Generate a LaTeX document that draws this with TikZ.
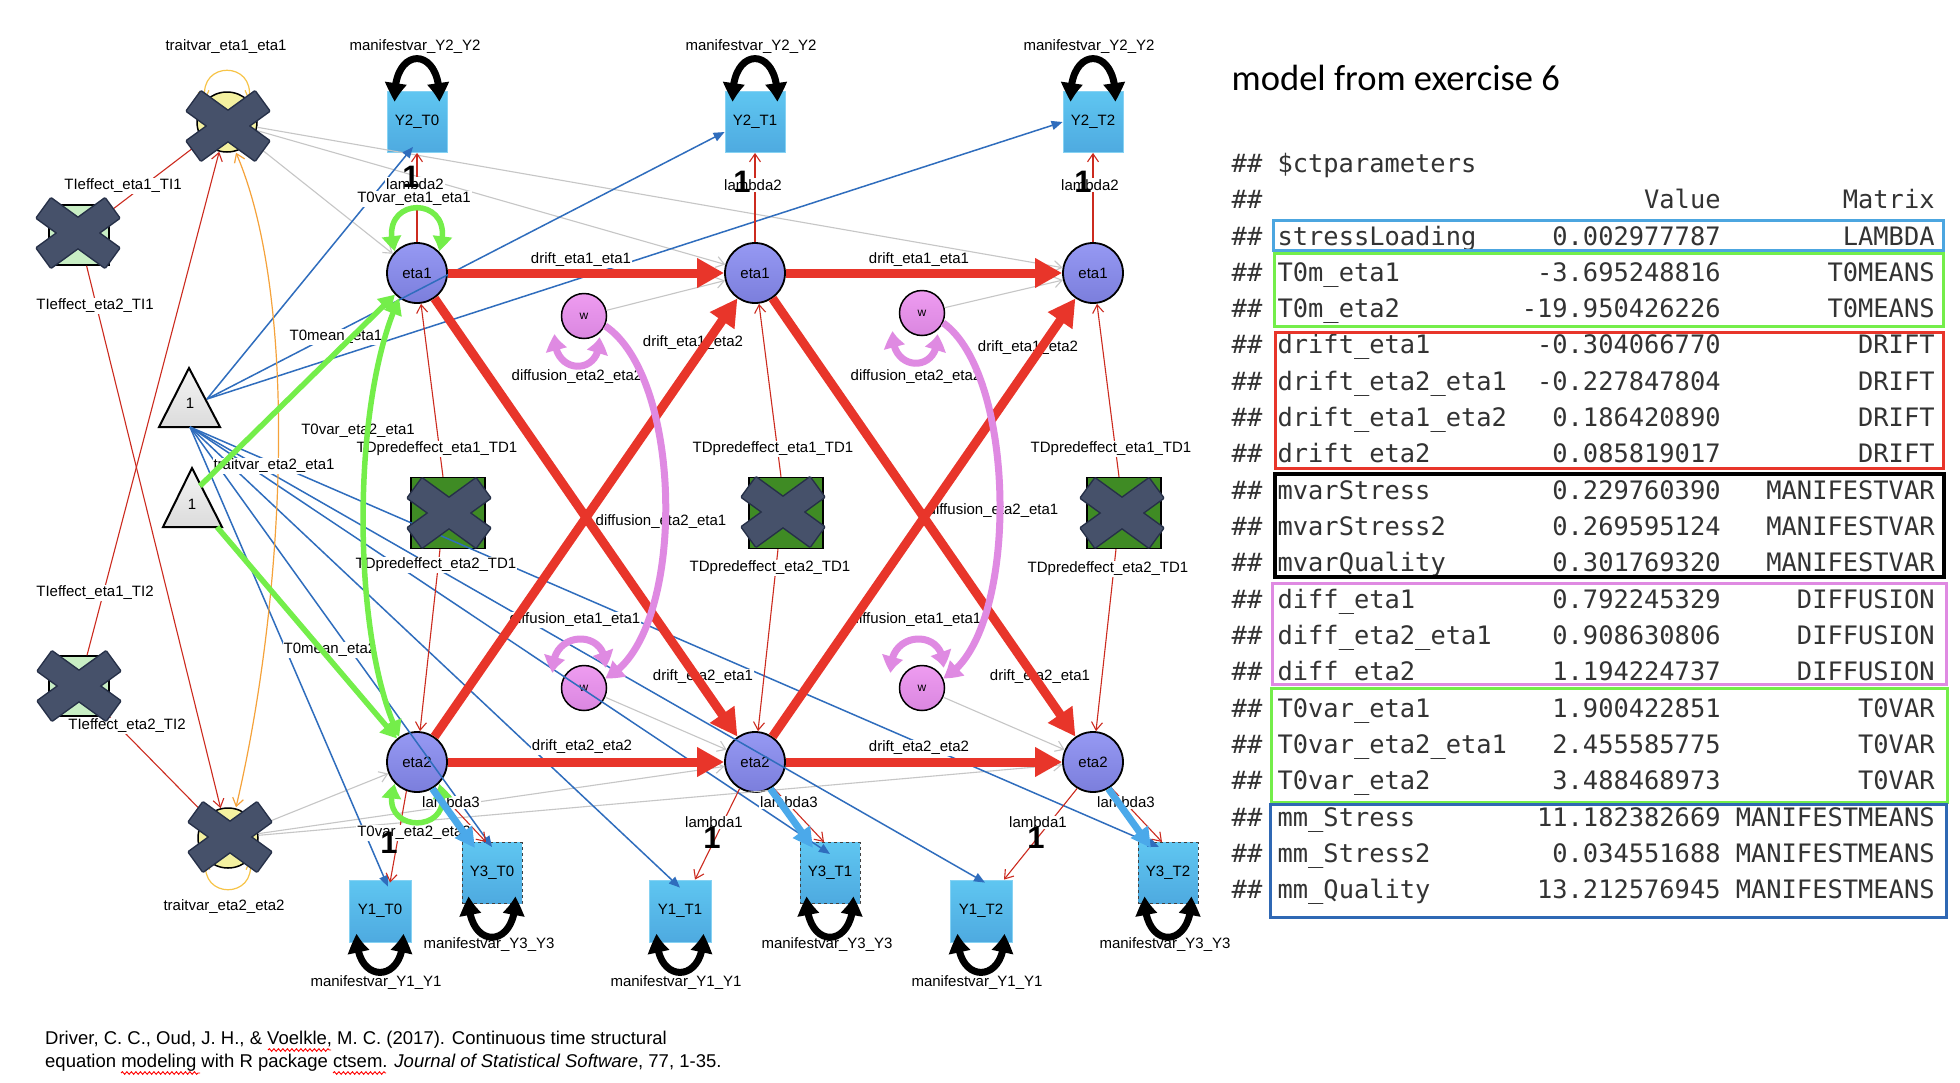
\documentclass[tikz,border=0pt]{standalone}
\usepackage{fontspec}
\setmainfont{Liberation Sans}
\newfontfamily\monof{DejaVu Sans Mono}
\newfontfamily\titlef{Carlito}
\usetikzlibrary{arrows.meta,bending,calc,decorations.pathmorphing}
\newcommand\fs[1]{\fontsize{#1}{#1}\selectfont}
\definecolor{dred}{HTML}{E8352A}
\definecolor{tred}{HTML}{CC2B1F}
\definecolor{tgreen}{HTML}{74EE4A}
\definecolor{tviol}{HTML}{DF8AE2}
\definecolor{tblue}{HTML}{2F6DBD}
\definecolor{dblue}{HTML}{2F68B4}
\definecolor{lblue}{HTML}{4CA6E0}
\definecolor{lbarrow}{HTML}{4BA9EA}
\definecolor{lgray}{HTML}{C6C6C6}
\definecolor{orng}{HTML}{F5A23A}
\definecolor{ylw}{HTML}{F7C448}
\definecolor{ytop}{HTML}{5FC6F1}
\definecolor{ybot}{HTML}{4EAAE0}
\definecolor{ybord}{HTML}{86D2F3}
\definecolor{etop}{HTML}{9699F3}
\definecolor{ebot}{HTML}{7B7EDC}
\definecolor{wtop}{HTML}{EE9CF0}
\definecolor{wbot}{HTML}{DA86E0}
\definecolor{tvfill}{HTML}{F4F1A0}
\definecolor{tifill}{HTML}{C8EEC4}
\definecolor{tdfill}{HTML}{3F8B24}
\definecolor{xfill}{HTML}{46516A}
\definecolor{xline}{HTML}{263048}
\definecolor{tgray}{HTML}{333333}
\newcommand\crossmk[1]{%
\begin{scope}[shift={#1}]
\draw[xline,line width=3pt,line join=round] (26.92,34.41)--(41.04,14.99)--(-26.92,-34.41)--(-41.04,-14.99)--cycle;
\draw[xline,line width=3pt,line join=round] (-26.92,34.41)--(-41.04,14.99)--(26.92,-34.41)--(41.04,-14.99)--cycle;
\fill[xfill] (26.92,34.41)--(41.04,14.99)--(-26.92,-34.41)--(-41.04,-14.99)--cycle;
\fill[xfill] (-26.92,34.41)--(-41.04,14.99)--(26.92,-34.41)--(41.04,-14.99)--cycle;
\end{scope}}
\tikzset{
 lat/.style={circle,draw=black,line width=1.8pt,minimum size=60pt,inner sep=0pt,top color=etop,bottom color=ebot,font=\fs{15}},
 wst/.style={circle,draw=black,line width=1.5pt,minimum size=45pt,inner sep=0pt,top color=wtop,bottom color=wbot,font=\fs{12}},
 tvst/.style={circle,draw=black,line width=1.5pt,minimum size=60pt,inner sep=0pt,fill=tvfill},
 man/.style={rectangle,minimum width=60pt,minimum height=61pt,inner sep=0pt,top color=ytop,bottom color=ybot,draw=ybord,line width=0.8pt,font=\fs{15}},
 manc/.style={man,draw=black!75,dashed,line width=1pt},
 tibox/.style={rectangle,minimum size=60pt,inner sep=0pt,fill=tifill,draw=black,line width=1.5pt},
 tdbox/.style={rectangle,minimum width=74pt,minimum height=71pt,inner sep=0pt,fill=tdfill,draw=black,line width=1.5pt},
 trist/.style={draw=black,line width=2pt,line join=miter,top color=gray!8,bottom color=gray!28},
 lab/.style={font=\fs{15},fill=white,inner sep=1pt},
 one/.style={font=\bfseries\fs{31},inner sep=0pt},
 gline/.style={draw=lgray,line width=1.1pt,-{Straight Barb[length=8pt,width=11pt]}},
 rline/.style={draw=tred,line width=1.1pt,-{Straight Barb[length=8pt,width=11pt]}},
 bline/.style={draw=tblue,line width=1.5pt,-{Triangle[length=11pt,width=9pt]}},
 oline/.style={draw=orng,line width=1.2pt,>={Straight Barb[length=8pt,width=11pt]}},
 yline/.style={draw=ylw,line width=1.2pt,>={Straight Barb[length=8pt,width=11pt]}},
 drift/.style={draw=dred,line width=9pt,-{Triangle[length=27pt,width=28pt]}},
 gthick/.style={draw=tgreen,line width=5.5pt,>={Triangle[length=16pt,width=18pt,bend]}},
 vthick/.style={draw=tviol,line width=7pt,>={Triangle[length=17pt,width=20pt,bend]}},
 lbthick/.style={draw=lbarrow,line width=7pt,-{Triangle[length=20pt,width=20pt]}},
 bkthick/.style={draw=black,line width=7pt,>={Triangle[length=20pt,width=20pt,bend]}},
 tbox/.style={line width=3pt},
 squig/.style={draw=red,line width=0.9pt,decorate,decoration={snake,amplitude=1.3pt,segment length=4.5pt}},
 mono/.style={font=\monof\fs{25.4},text=tgray,inner sep=0pt}
}
\begin{document}
\begin{tikzpicture}[x=1pt,y=-1pt]
\useasboundingbox (0,0) rectangle (1960,1082);
\fill[white] (0,0) rectangle (1960,1082);

% ---------------- nodes ----------------
\node[tvst] (tv1) at (227,122) {};
\node[tvst] (tv2) at (228,838) {};
\node[tibox] (ti1) at (79,235) {};
\node[tibox] (ti2) at (79,686) {};
\draw[trist] (189,368) -- (220,427) -- (159,427) -- cycle;
\node[font=\fs{15}] (tri1t) at (190,403) {1};
\draw[trist] (192,468) -- (222,527) -- (163,527) -- cycle;
\node[font=\fs{15}] (tri2t) at (192,504) {1};
\coordinate (t1u) at (207,399);
\coordinate (t1d) at (190,427);
\coordinate (t2a) at (200,486);
\coordinate (t2b) at (217,527);
\foreach \k/\x in {0/417,1/755,2/1093}{
  \node[lat] (e1\k) at (\x,273) {eta1};
  \node[lat] (e2\k) at (\x,762) {eta2};
  \node[man] (ya\k) at (\x,122) {Y2\_T\k};
  \node[manc] (yc\k) at (\x+75,873) {Y3\_T\k};
  \node[tdbox] (td\k) at (\x+31,513) {};
}
\node[man,minimum width=62pt,minimum height=62pt] (yb0) at (380,911) {Y1\_T0};
\node[man,minimum width=62pt,minimum height=62pt] (yb1) at (680,911) {Y1\_T1};
\node[man,minimum width=62pt,minimum height=62pt] (yb2) at (981,911) {Y1\_T2};
\node[wst] (wa1) at (584,316) {w};
\node[wst] (wa2) at (922,313) {w};
\node[wst] (wb1) at (584,688) {w};
\node[wst] (wb2) at (922,688) {w};

% ---------------- thin connectors ----------------
\foreach \k in {0,1,2}{
  \draw[gline] (tv1) -- (e1\k);
  \draw[gline] (tv2) -- (e2\k);
}
\draw[gline] (wa1) -- (e11);
\draw[gline] (wa2) -- (e12);
\draw[gline] (wb1) -- (e21);
\draw[gline] (wb2) -- (e22);

\draw[bline] (t1u) -- ([xshift=-4pt,yshift=6pt]ya0.south);
\draw[bline] (t1u) -- ([yshift=-10pt]ya1.west);
\draw[bline] (t1u) -- (ya2.west);
\draw[bline] (t1d) -- ([xshift=8pt,yshift=-7pt]yb0.north);
\draw[bline] (t1d) -- ([yshift=-5pt]yc0.north);
\draw[bline] (t1d) -- ([yshift=-8pt]yb1.north);
\draw[bline] (t1d) -- ([yshift=-12pt]yc1.north);
\draw[bline] (t1d) -- ([xshift=4pt,yshift=-3pt]yb2.north);
\draw[bline] (t1d) -- ([xshift=-9pt,yshift=-5pt]yc2.north);

\draw[rline] (ti1) -- (tv1);
\draw[rline] (ti1) -- (tv2);
\draw[rline] (ti2) -- (tv1);
\draw[rline] (ti2) -- (tv2);
\foreach \k in {0,1,2}{
  \draw[rline] ([xshift=-5pt]td\k.north) -- ([xshift=4pt]e1\k.south);
  \draw[rline] ([xshift=-8pt]td\k.south) -- ([xshift=3pt]e2\k.north);
  \draw[rline] (e1\k) -- (ya\k);
  \draw[rline] (e2\k.305) -- ([xshift=-6pt]yc\k.north);
}
\draw[rline] (e20.250) -- ([xshift=10pt,yshift=-3pt]yb0.north);
\draw[rline] (e21.240) -- ([xshift=15pt]yb1.north);
\draw[rline] (e22.239) -- ([xshift=23pt]yb2.north);

\draw[oline,<->] ([xshift=9pt]tv1.south) .. controls (300,300) and (285,600) .. ([xshift=8pt]tv2.north);
\draw[yline,<->] (tv1.135) .. controls +(-8,-40) and +(8,-40) .. (tv1.45);
\draw[yline,<->] (tv2.225) .. controls +(-8,40) and +(8,40) .. (tv2.315);

% ---------------- labels ----------------
\node[lab] (L1) at (226,47) {traitvar\_eta1\_eta1};
\node[lab] (L2) at (415,47) {manifestvar\_Y2\_Y2};
\node[lab] (L3) at (751,47) {manifestvar\_Y2\_Y2};
\node[lab] (L4) at (1089,47) {manifestvar\_Y2\_Y2};
\node[lab] (L5) at (123,186) {TIeffect\_eta1\_TI1};
\node[lab] (L6) at (95,306) {TIeffect\_eta2\_TI1};
\node[lab] (L7) at (95,593) {TIeffect\_eta1\_TI2};
\node[lab] (L8) at (127,726) {TIeffect\_eta2\_TI2};
\node[lab] (L9) at (224,907) {traitvar\_eta2\_eta2};
\node[lab] (L10) at (274,466) {traitvar\_eta2\_eta1};
\node[lab] (L11) at (336,337) {T0mean\_eta1};
\node[lab] (L12) at (330,650) {T0mean\_eta2};
\node[lab] (L13) at (415,184) {lambda2};
\node[lab] (L14) at (753,185) {lambda2};
\node[lab] (L15) at (1090,185) {lambda2};
\node[lab] (L16) at (414,199) {T0var\_eta1\_eta1};
\node[lab] (L17) at (581,260) {drift\_eta1\_eta1};
\node[lab] (L18) at (919,260) {drift\_eta1\_eta1};
\node[lab] (L19) at (577,377) {diffusion\_eta2\_eta2};
\node[lab] (L20) at (916,377) {diffusion\_eta2\_eta2};
\node[lab] (L21) at (693,343) {drift\_eta1\_eta2};
\node[lab] (L22) at (1028,348) {drift\_eta1\_eta2};
\node[lab] (L23) at (358,431) {T0var\_eta2\_eta1};
\node[lab] (L24) at (437,449) {TDpredeffect\_eta1\_TD1};
\node[lab] (L25) at (773,449) {TDpredeffect\_eta1\_TD1};
\node[lab] (L26) at (1111,449) {TDpredeffect\_eta1\_TD1};
\node[lab] (L27) at (436,565) {TDpredeffect\_eta2\_TD1};
\node[lab] (L28) at (770,568) {TDpredeffect\_eta2\_TD1};
\node[lab] (L29) at (1108,569) {TDpredeffect\_eta2\_TD1};
\node[lab] (L30) at (661,522) {diffusion\_eta2\_eta1};
\node[lab] (L31) at (993,511) {diffusion\_eta2\_eta1};
\node[lab] (L32) at (575,620) {diffusion\_eta1\_eta1};
\node[lab] (L33) at (916,620) {diffusion\_eta1\_eta1};
\node[lab] (L34) at (703,677) {drift\_eta2\_eta1};
\node[lab] (L35) at (1040,677) {drift\_eta2\_eta1};
\node[lab] (L36) at (582,747) {drift\_eta2\_eta2};
\node[lab] (L37) at (919,748) {drift\_eta2\_eta2};
\node[lab] (L38) at (451,802) {lambda3};
\node[lab] (L39) at (789,802) {lambda3};
\node[lab] (L40) at (1126,802) {lambda3};
\node[lab] (L41) at (414,833) {T0var\_eta2\_eta2};
\node[lab] (L42) at (714,822) {lambda1};
\node[lab] (L43) at (1038,822) {lambda1};
\node[lab] (L44) at (489,945) {manifestvar\_Y3\_Y3};
\node[lab] (L45) at (827,945) {manifestvar\_Y3\_Y3};
\node[lab] (L46) at (1165,945) {manifestvar\_Y3\_Y3};
\node[lab] (L47) at (376,983) {manifestvar\_Y1\_Y1};
\node[lab] (L48) at (676,983) {manifestvar\_Y1\_Y1};
\node[lab] (L49) at (977,983) {manifestvar\_Y1\_Y1};

% ---------------- thick connectors ----------------
\draw[drift] (e10) -- (e11);
\draw[drift] (e11) -- (e12);
\draw[drift] (e20) -- (e21);
\draw[drift] (e21) -- (e22);
\draw[drift] (e10) -- (e21);
\draw[drift] (e20) -- (e11);
\draw[drift] (e11) -- (e22);
\draw[drift] (e21) -- (e12);

\draw[gthick,<->] (e10.135) .. controls +(-22,-58) and +(22,-58) .. (e10.45);
\draw[gthick,<->] (e20.225) .. controls +(-22,52) and +(22,52) .. (e20.315);
\draw[gthick,<->] (e10.235) .. controls (351,400) and (351,640) .. (e20.125);
\draw[gthick,->] (t2a) -- (e10);
\draw[gthick,->] (t2b) -- (e20);

\foreach \w in {wa1,wa2}{
  \draw[vthick,<->] ($(\w)+(-29,18)$) .. controls +(-4,42) and +(4,40) .. ($(\w)+(15,21)$);
}
\foreach \w in {wb1,wb2}{
  \draw[vthick,<->] ($(\w)+(-31,-15)$) .. controls +(-4,-44) and +(4,-40) .. ($(\w)+(21,-20)$);
}
\draw[vthick,->] (wa1.-25) .. controls (686,380) and (686,640) .. (wb1.25);
\draw[vthick,->] (wa2.-25) .. controls (1019,377) and (1019,640) .. (wb2.25);

\foreach \k in {0,1,2}{
  \draw[lbthick] (e2\k.300) -- ([xshift=-17pt,yshift=-6pt]yc\k.north);
  \draw[bkthick,<->] ([xshift=-22pt,yshift=-11pt]ya\k.north) .. controls +(-4,-58) and +(4,-58) .. ([xshift=22pt,yshift=-11pt]ya\k.north);
  \draw[bkthick,<->] ([xshift=-23pt,yshift=9pt]yb\k.south) .. controls +(-3,52) and +(3,52) .. ([xshift=23pt,yshift=9pt]yb\k.south);
  \draw[bkthick,<->] ([xshift=-23pt,yshift=8pt]yc\k.south) .. controls +(-3,55) and +(3,55) .. ([xshift=23pt,yshift=8pt]yc\k.south);
}

% ---------------- crosses ----------------
\crossmk{(228,126)}
\crossmk{(230,837)}
\crossmk{(78,233)}
\crossmk{(79,686)}
\crossmk{(449,513)}
\crossmk{(783,512)}
\crossmk{(1122,513)}

\node[one] (o0) at (411,177) {1};
\node[one] (o1) at (742,182) {1};
\node[one] (o2) at (1083,182) {1};
\node[one] (o3) at (389,843) {1};
\node[one] (o4) at (712,838) {1};
\node[one] (o5) at (1036,838) {1};

% ---------------- citation ----------------
\node[anchor=base west,inner sep=0pt,font=\fs{18.5}] (cit1) at (45,1044) {Driver, C. C., Oud, J. H., \& Voelkle, M. C. (2017). Continuous time structural};
\node[anchor=base west,inner sep=0pt,font=\fs{18.5}] (cit2) at (45,1067) {equation modeling with R package ctsem. \textit{Journal of Statistical Software}, 77, 1-35.};
\draw[squig] (268,1050) -- (331,1050);
\draw[squig] (121,1073) -- (200,1073);
\draw[squig] (333,1073) -- (386,1073);

% ---------------- table ----------------
\node[anchor=base west,inner sep=0pt,font=\titlef\fs{36.5}] (title) at (1231.5,90) {model from exercise 6};
\node[mono,anchor=base west] (hh0) at (1231.5,172.3) {\#\# \$ctparameters};
\node[mono,anchor=base west] (hh1) at (1231.5,208.7) {\#\#};
\node[mono,anchor=base east] (hv) at (1720.8,208.7) {Value};
\node[mono,anchor=base east] (hm) at (1934.8,208.7) {Matrix};
\foreach \n/\v/\m [count=\i from 0] in {
 stressLoading/0.002977787/LAMBDA,
 T0m\_eta1/-3.695248816/T0MEANS,
 T0m\_eta2/-19.950426226/T0MEANS,
 drift\_eta1/-0.304066770/DRIFT,
 drift\_eta2\_eta1/-0.227847804/DRIFT,
 drift\_eta1\_eta2/0.186420890/DRIFT,
 drift\_eta2/0.085819017/DRIFT,
 mvarStress/0.229760390/MANIFESTVAR,
 mvarStress2/0.269595124/MANIFESTVAR,
 mvarQuality/0.301769320/MANIFESTVAR,
 diff\_eta1/0.792245329/DIFFUSION,
 diff\_eta2\_eta1/0.908630806/DIFFUSION,
 diff\_eta2/1.194224737/DIFFUSION,
 T0var\_eta1/1.900422851/T0VAR,
 T0var\_eta2\_eta1/2.455585775/T0VAR,
 T0var\_eta2/3.488468973/T0VAR,
 mm\_Stress/11.182382669/MANIFESTMEANS,
 mm\_Stress2/0.034551688/MANIFESTMEANS,
 mm\_Quality/13.212576945/MANIFESTMEANS}{
  \node[mono,anchor=base west] (rh\i) at (1231.5,245+36.33*\i) {\#\#};
  \node[mono,anchor=base west] (rn\i) at (1277.4,245+36.33*\i) {\n};
  \node[mono,anchor=base east] (rv\i) at (1720.8,245+36.33*\i) {\v};
  \node[mono,anchor=base east] (rm\i) at (1934.8,245+36.33*\i) {\m};
}
\draw[tbox,draw=lblue] (1273.5,220) rectangle (1943.5,250);
\draw[tbox,draw=tgreen] (1274,253) rectangle (1943.5,326);
\draw[tbox,draw=dred] (1275,332) rectangle (1943.5,468);
\draw[tbox,draw=black,line width=4pt] (1275,474) rectangle (1943.5,577);
\draw[tbox,draw=tviol] (1272,583) rectangle (1946,684);
\draw[tbox,draw=tgreen] (1271,688) rectangle (1947,802);
\draw[tbox,draw=dblue] (1270,804) rectangle (1946,917);
\end{tikzpicture}
\end{document}
